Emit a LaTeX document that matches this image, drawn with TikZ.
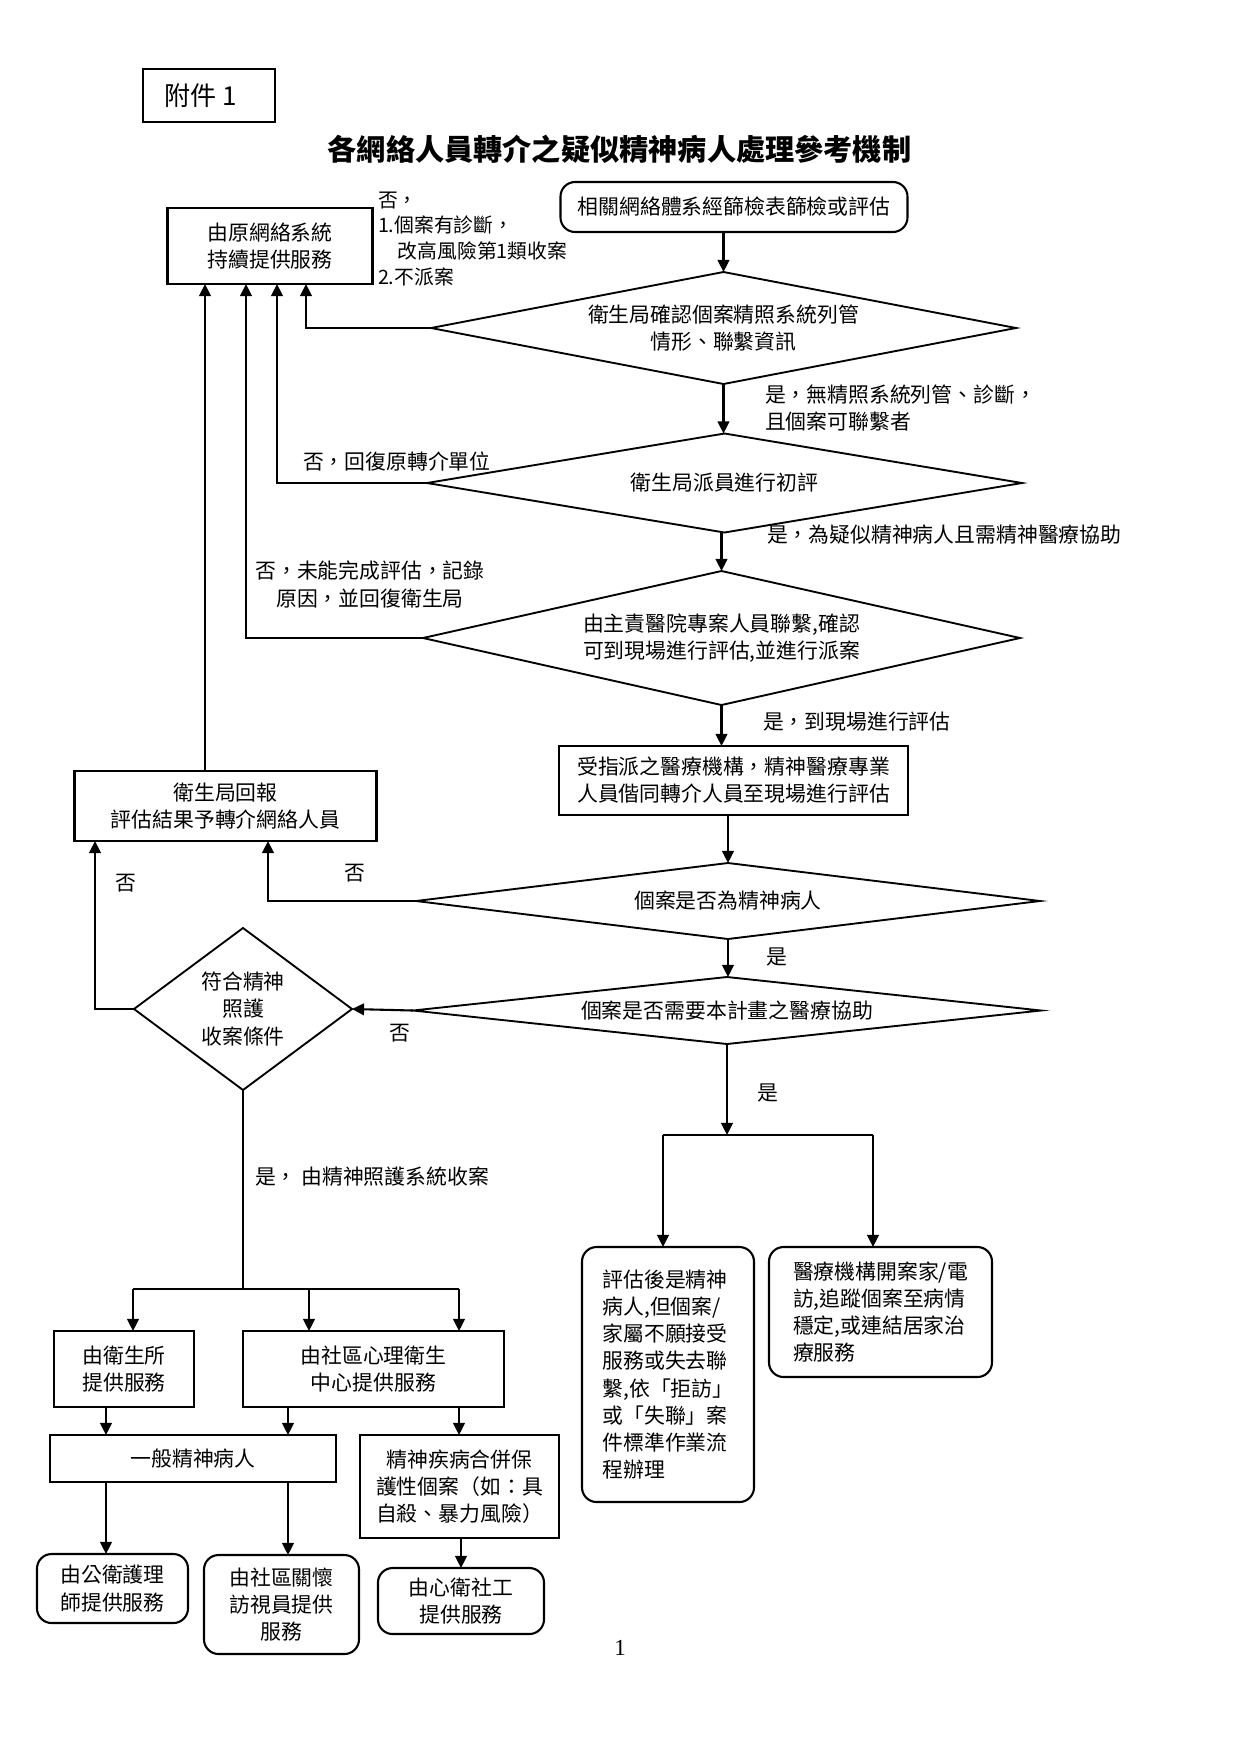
\documentclass[tikz,border=0pt]{standalone}
\usepackage{fontspec}
\setmainfont{Noto Sans CJK TC}
\newfontfamily\serifnum{Liberation Serif}
\usetikzlibrary{shapes.geometric,arrows.meta}
\newcommand{\pxu}{0.4797pt}
\tikzset{
  every node/.style={font=\fontsize{10}{13}\selectfont, inner sep=0pt, outer sep=0pt},
  sz/.style 2 args={minimum width=#1*\pxu, minimum height=#2*\pxu},
  rbox/.style={draw, line width=1pt, align=center, rectangle},
  rrbox/.style={rbox, rounded corners=7pt},
  dia/.style={draw, line width=0.9pt, shape=diamond, align=center},
  lbl/.style={align=left, anchor=west},
  arr/.style={line width=1pt, -{Triangle[length=5.8pt,width=5.6pt]}},
  ln/.style={line width=1pt},
}
\begin{document}
\begin{tikzpicture}[x=\pxu, y=-\pxu]
\useasboundingbox (0,0) rectangle (1241,1755);

% header
\node[rbox, sz={132}{53}, font=\fontsize{12.5}{15}\selectfont] (fj) at (209,95.5) {附件 1\hspace{8pt}};
\node[font=\fontsize{14}{17}\selectfont\bfseries] (title) at (619.5,149) {各網絡人員轉介之疑似精神病人處理參考機制};

% top part
\node[rbox, sz={205}{76}] (b1) at (270,246) {由原網絡系統\\持續提供服務};
\node[lbl, font=\fontsize{9.5}{12.4}\selectfont] (note) at (378,239) {否，\\1.個案有診斷，\\\hspace{1em}改高風險第1類收案\\2.不派案};
\node[rrbox, sz={347}{50}] (top) at (734,207) {相關網絡體系經篩檢表篩檢或評估};

\node[dia, aspect=5.2, sz={585}{112}] (d1) at (723.5,328) {衛生局確認個案精照系統列管\\情形、聯繫資訊};
\node[lbl] (y1) at (765,408) {是，無精照系統列管、診斷，\\且個案可聯繫者};

\node[dia, aspect=6, sz={595}{99}] (d2) at (724.5,483) {衛生局派員進行初評};
\node[lbl] (n2) at (303,462) {否，回復原轉介單位};
\node[lbl] (y2) at (767,535) {是，為疑似精神病人且需精神醫療協助};

\node[dia, aspect=4.5, sz={597}{134}] (d3) at (721.5,638) {由主責醫院專案人員聯繫,確認\\可到現場進行評估,並進行派案};
\node[align=center] (n3) at (370,584.5) {否，未能完成評估，記錄\\原因，並回復衛生局};
\node[lbl] (y3) at (763,722) {是，到現場進行評估};

\node[rbox, sz={349}{69}] (b14) at (733.5,780.5) {受指派之醫療機構，精神醫療專業\\人員偕同轉介人員至現場進行評估};
\node[rbox, sz={302}{70}] (b15) at (225.5,806) {衛生局回報\\評估結果予轉介網絡人員};

\node[dia, aspect=8, sz={624}{76}] (d4) at (728,901) {個案是否為精神病人};
\node (n4) at (355,873) {否};
\node (n6) at (126,883) {否};
\node (y4) at (777,957) {是};

\node[dia, aspect=9, sz={628}{67}] (d5) at (727,1010.5) {個案是否需要本計畫之醫療協助};
\node (n5) at (400,1033) {否};
\node[dia, aspect=1.35, sz={218}{162}] (d6) at (243,1009) {符合精神\\照護\\收案條件};
\node (y5) at (768,1093) {是};

% right lower part
\node[rrbox, sz={172}{255}, align=left] (b35) at (668,1374.5) {評估後是精神\\病人,但個案/\\家屬不願接受\\服務或失去聯\\繫,依「拒訪」\\或「失聯」案\\件標準作業流\\程辦理};
\node[rrbox, sz={223}{130}, align=left] (b36) at (880.5,1312) {醫療機構開案家/電\\訪,追蹤個案至病情\\穩定,或連結居家治\\療服務};

% left lower part
\node[lbl] (y6) at (255,1177) {是， 由精神照護系統收案};
\node[rbox, sz={140}{76}] (b27) at (124,1369) {由衛生所\\提供服務};
\node[rbox, sz={261}{76}] (b28) at (373.5,1369) {由社區心理衛生\\中心提供服務};
\node[rbox, sz={286}{47}] (b29) at (193,1458.5) {一般精神病人};
\node[rbox, sz={199}{103}] (b30) at (459.5,1486.5) {精神疾病合併保\\護性個案（如：具\\自殺、暴力風險）};
\node[rrbox, sz={151}{69}] (b32) at (112.5,1588.5) {由公衛護理\\師提供服務};
\node[rrbox, sz={155}{99}] (b33) at (281.5,1604.5) {由社區關懷\\訪視員提供\\服務};
\node[rrbox, sz={166}{66}] (b34) at (461,1601) {由心衛社工\\提供服務};

\node[font=\serifnum\fontsize{11}{13}\selectfont] (pg) at (620,1648) {1};

% main spine
\draw[arr] (d1.north |- top.south) -- (d1.north);
\draw[arr] (d1.south) -- (d1.south |- d2.north);
\draw[arr] (d3.north |- d2.south) -- (d3.north);
\draw[arr] (d3.south) -- (d3.south |- b14.north);
\draw[arr] (d4.north |- b14.south) -- (d4.north);
\draw[arr] (d4.south) -- (d4.south |- d5.north);

% returns to b1
\draw[arr] (d1.west) -- (306,0 |- d1.west) -- (306,0 |- b1.south);
\draw[arr] (d2.west) -- (277,0 |- d2.west) -- (277,0 |- b1.south);
\draw[arr] (d3.west) -- (246,0 |- d3.west) -- (246,0 |- b1.south);
\draw[arr] (205,0 |- b15.north) -- (205,0 |- b1.south);

% returns to b15
\draw[arr] (d4.west) -- (268,0 |- d4.west) -- (268,0 |- b15.south);
\draw[arr] (d6.west) -- (95,0 |- d6.west) -- (95,0 |- b15.south);
\draw[arr] (d5.west) -- (d6.east);

% right branch
\coordinate (j1) at (727,1135);
\coordinate (ja) at (663,1135);
\coordinate (jb) at (873,1135);
\draw[arr] (d5.south) -- (j1);
\draw[ln] (ja) -- (jb);
\draw[arr] (ja) -- (ja |- b35.north);
\draw[arr] (jb) -- (jb |- b36.north);

% left branch
\coordinate (kc) at (243,1289);
\coordinate (ka) at (133,1289);
\coordinate (kb) at (309,1289);
\coordinate (kd) at (459,1289);
\draw[ln] (d6.south) -- (kc);
\draw[ln] (ka) -- (kd);
\draw[arr] (ka) -- (ka |- b27.north);
\draw[arr] (kb) -- (kb |- b28.north);
\draw[arr] (kd) -- (kd |- b28.north);

\draw[arr] (106,0 |- b27.south) -- (106,0 |- b29.north);
\draw[arr] (288,0 |- b28.south) -- (288,0 |- b29.north);
\draw[arr] (459,0 |- b28.south) -- (459,0 |- b30.north);
\draw[arr] (106,0 |- b29.south) -- (106,0 |- b32.north);
\draw[arr] (288,0 |- b29.south) -- (288,0 |- b33.north);
\draw[arr] (461,0 |- b30.south) -- (461,0 |- b34.north);
\end{tikzpicture}
\end{document}
